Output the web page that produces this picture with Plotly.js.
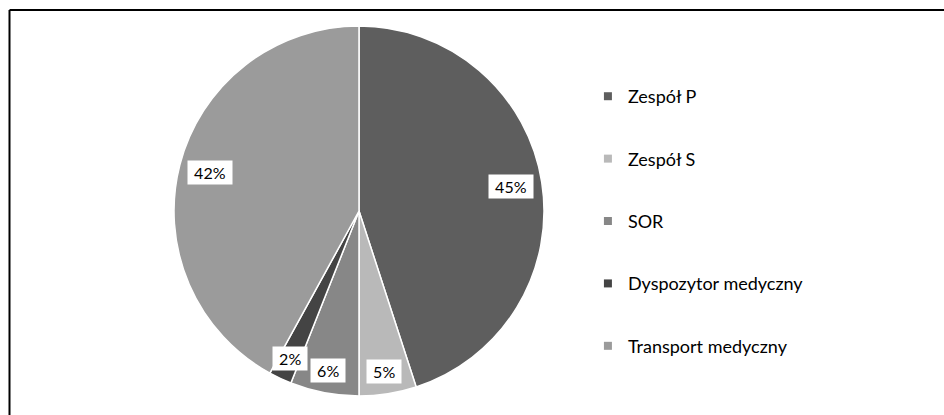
<!DOCTYPE html>
<html>
<head>
<meta charset="utf-8">
<script src="https://cdn.plot.ly/plotly-3.0.1.min.js"></script>
<style>html,body{margin:0;padding:0;background:#fff;}#chart{width:944px;height:415px;}</style>
</head>
<body>
<div id="chart"></div>
<script>
const categories = ["Zespół P", "Zespół S", "SOR", "Dyspozytor medyczny", "Transport medyczny"];
const values = [45, 5, 6, 2, 42];
const colors = ["#5e5e5e", "#b9b9b9", "#878787", "#444444", "#9b9b9b"];

const W = 944, H = 415;
const pieDomX = [174 / W, 544 / W];
const pieDomY = [19 / H, 389 / H];
const cxPx = 359, cyPx = 211, rPx = 185;

const pie = {
  type: "pie",
  labels: categories,
  values: values,
  sort: false,
  direction: "clockwise",
  rotation: 0,
  textinfo: "none",
  hoverinfo: "label+percent",
  showlegend: false,
  marker: { colors: colors, line: { color: "#ffffff", width: 1.5 } },
  domain: { x: pieDomX, y: pieDomY }
};

const legendTraces = categories.map((c, i) => ({
  type: "scatter",
  mode: "markers",
  x: [null], y: [null],
  name: c,
  legendgroup: "g" + i,
  marker: { symbol: "square", size: 8, color: colors[i] },
  showlegend: true
}));

const total = values.reduce((a, b) => a + b, 0);
let cum = 0;
const annotations = values.map((v, i) => {
  const mid = (cum + v / 2) / total * 2 * Math.PI;
  cum += v;
  const frac = v > 20 ? 0.83 : 0.88;
  const px = cxPx + Math.sin(mid) * rPx * frac;
  const py = cyPx - Math.cos(mid) * rPx * frac;
  return {
    x: px / W, y: 1 - py / H, xref: "paper", yref: "paper",
    xanchor: "center", yanchor: "middle",
    text: "\u00a0" + Math.round(v / total * 100) + "%\u00a0",
    showarrow: false,
    bgcolor: "#ffffff",
    borderpad: 2,
    font: { family: "Lato, 'Open Sans', sans-serif", size: 16, color: "#000" }
  };
});

const layout = {
  width: W, height: H,
  margin: { l: 0, r: 0, t: 0, b: 0 },
  paper_bgcolor: "#ffffff",
  plot_bgcolor: "#ffffff",
  xaxis: { visible: false, domain: [0.7, 0.71] },
  yaxis: { visible: false, domain: [0.7, 0.71] },
  showlegend: true,
  legend: {
    x: 0.6228, y: 0.812, xanchor: "left", yanchor: "top",
    font: { family: "Lato, 'Open Sans', sans-serif", size: 18, color: "#000" },
    tracegroupgap: 36,
    itemclick: false, itemdoubleclick: false,
    bgcolor: "rgba(0,0,0,0)"
  },
  annotations: annotations,
  shapes: [
    { type: "line", xref: "paper", yref: "paper", x0: 9.5 / W, x1: 1.01, y0: 1 - 10 / H, y1: 1 - 10 / H, line: { color: "#000", width: 2 } },
    { type: "line", xref: "paper", yref: "paper", x0: 9.5 / W, x1: 9.5 / W, y0: 1 - 10 / H, y1: -0.01, line: { color: "#000", width: 2 } }
  ]
};

Plotly.newPlot("chart", [pie].concat(legendTraces), layout, { displayModeBar: false, staticPlot: true });
</script>
</body>
</html>
